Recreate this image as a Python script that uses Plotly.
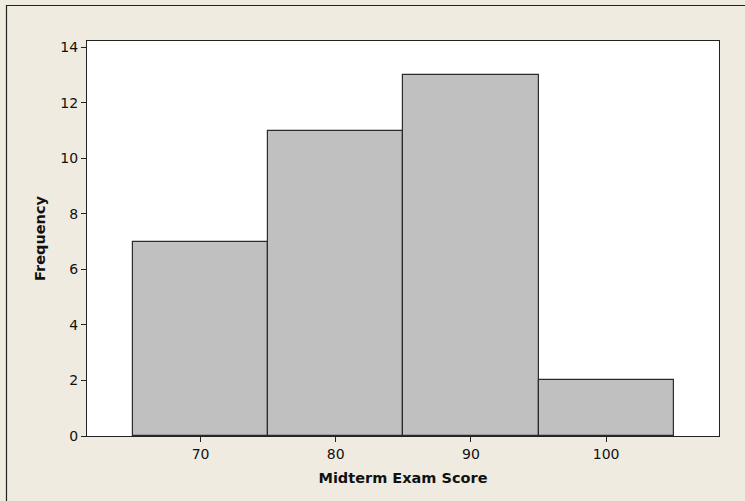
import plotly.graph_objects as go

bin_centers = [70, 80, 90, 100]
frequencies = [7, 11, 13, 2]
x_ticks = [70, 80, 90, 100]
y_ticks = [0, 2, 4, 6, 8, 10, 12, 14]

bg = "#EFEBE1"
fig = go.Figure(go.Bar(
    x=bin_centers, y=frequencies, width=10,
    marker=dict(color="#C0C0C0", line=dict(color="#2b2b2b", width=1.2)),
))

L, R, T, B = 87, 26, 41, 65
W, H = 745, 501
pw, ph = W - L - R, H - T - B

def px_to_paper_x(px):
    return (px - L) / pw

def px_to_paper_y(py):
    return (H - B - py) / ph

fig.update_layout(
    width=W, height=H,
    margin=dict(l=L, r=R, t=T, b=B, pad=0),
    paper_bgcolor=bg, plot_bgcolor="white",
    showlegend=False,
    font=dict(family="DejaVu Sans", size=14, color="#111"),
    bargap=0,
    xaxis=dict(range=[61.6, 108.35], tickvals=x_ticks, ticks="outside", ticklen=5,
               tickcolor="#222", showgrid=False, zeroline=False,
               showline=True, linecolor="#222", linewidth=1.2, mirror=True,
               tickfont=dict(size=14),
               title=dict(text="<b>Midterm Exam Score</b>", standoff=11, font=dict(size=14.5))),
    yaxis=dict(range=[0, 14.23], tickvals=y_ticks, ticks="outside", ticklen=5,
               tickcolor="#222", showgrid=False, zeroline=False,
               showline=True, linecolor="#222", linewidth=1.2, mirror=True,
               tickfont=dict(size=14),
               title=dict(text="<b>Frequency</b>", standoff=11, font=dict(size=14.5))),
    shapes=[
        dict(type="line", xref="paper", yref="paper",
             x0=px_to_paper_x(6), x1=px_to_paper_x(745), y0=px_to_paper_y(5.5), y1=px_to_paper_y(5.5),
             line=dict(color="#222", width=1.2)),
        dict(type="line", xref="paper", yref="paper",
             x0=px_to_paper_x(6.5), x1=px_to_paper_x(6.5), y0=px_to_paper_y(5), y1=px_to_paper_y(501),
             line=dict(color="#222", width=1.2)),
    ],
)

fig.write_html(
    "out.html",
    config={"displayModeBar": False},
    post_script="document.body.style.margin='0';document.body.style.background='%s';" % bg,
)
